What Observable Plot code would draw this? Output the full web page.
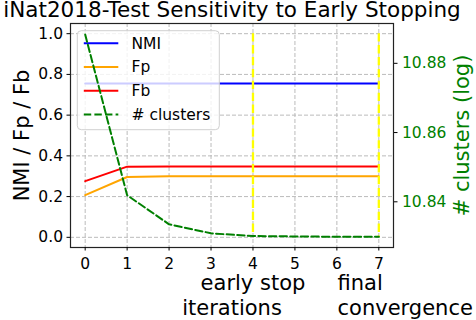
<!DOCTYPE html>
<html><head><meta charset="utf-8">
<script src="https://cdn.jsdelivr.net/npm/d3@7"></script>
<script src="https://cdn.jsdelivr.net/npm/@observablehq/plot@0.6"></script>
<style>
body{margin:0;background:#fff;font-family:"DejaVu Sans",sans-serif;}
#title{width:464px;height:20px;line-height:19.5px;font-size:21.5px;text-align:center;white-space:nowrap;color:#000;overflow:visible;}
#chart svg{overflow:visible;}
</style></head><body>
<div id="title">iNat2018-Test Sensitivity to Early Stopping</div>
<div id="chart"></div>
<script>
const iterations = [0, 1, 2, 3, 4, 5, 6, 7];
const nmi = [0.755, 0.755, 0.755, 0.755, 0.755, 0.755, 0.755, 0.755];
const fp = [0.207, 0.296, 0.300, 0.300, 0.300, 0.300, 0.300, 0.300];
const fb = [0.276, 0.347, 0.348, 0.348, 0.348, 0.348, 0.348, 0.348];
const logClusters = [10.8883, 10.8419, 10.8335, 10.8309, 10.8301, 10.8300, 10.8299, 10.8299];
const leftTicks = [0, 0.2, 0.4, 0.6, 0.8, 1.0];
const rightTicks = [10.84, 10.86, 10.88];
const markerIters = [4, 7];
const seriesNames = ["NMI", "Fp", "Fb", "# clusters"];
const seriesColors = ["blue", "orange", "red", "green"];
const yDomain = [-0.05, 1.05];
const rightDomain = [10.8268, 10.8915];

const toLeft = d3.scaleLinear(rightDomain, yDomain);
const rows = iterations.map((it, i) => ({it, nmi: nmi[i], fp: fp[i], fb: fb[i], cl: toLeft(logClusters[i])}));
const FONT = "DejaVu Sans";

function legend(index, scales, values, dim) {
  const g = d3.create("svg:g").attr("font-family", FONT).attr("font-size", 15.5).attr("text-anchor", "start");
  const x0 = dim.marginLeft + 7.3, y0 = dim.marginTop + 7.7;
  g.append("rect").attr("x", x0).attr("y", y0).attr("width", 142).attr("height", 99)
    .attr("rx", 4).attr("fill", "white").attr("fill-opacity", 0.8).attr("stroke", "#d0d0d0");
  seriesNames.forEach((n, i) => {
    const yy = y0 + 12.6 + i * 23.7;
    g.append("line").attr("x1", x0 + 6.5).attr("x2", x0 + 41).attr("y1", yy).attr("y2", yy)
      .attr("stroke", seriesColors[i]).attr("stroke-width", 2)
      .attr("stroke-dasharray", i === 3 ? "7.4,3.2" : null);
    g.append("text").attr("x", x0 + 54.2).attr("y", yy).attr("dy", "0.35em")
      .attr("text-anchor", "start").attr("fill", "black").text(n);
  });
  return g.node();
}

const gridStyle = {stroke: "#bbbbbb", strokeOpacity: 1, strokeWidth: 1, strokeDasharray: "4,2"};

const chart = Plot.plot({
  width: 476,
  height: 300,
  marginLeft: 70,
  marginRight: 83,
  marginTop: 3,
  marginBottom: 73,
  style: {fontFamily: FONT, background: "white", overflow: "visible"},
  x: {domain: [-0.35, 7.35]},
  y: {domain: yDomain},
  marks: [
    Plot.gridX(iterations, gridStyle),
    Plot.gridY(leftTicks, gridStyle),
    Plot.line(rows, {x: "it", y: "nmi", stroke: seriesColors[0], strokeWidth: 2}),
    Plot.line(rows, {x: "it", y: "fp", stroke: seriesColors[1], strokeWidth: 2}),
    Plot.line(rows, {x: "it", y: "fb", stroke: seriesColors[2], strokeWidth: 2}),
    Plot.ruleX(markerIters, {x: d => d, y1: 1, y2: 0, stroke: "yellow", strokeWidth: 2.3, strokeDasharray: "8.3,3.6"}),
    legend,
    Plot.line(rows, {x: "it", y: "cl", stroke: seriesColors[3], strokeWidth: 2, strokeDasharray: "7.4,3.2"}),
    Plot.frame({stroke: "#222", strokeWidth: 1.2}),
    Plot.axisX(iterations, {anchor: "bottom", tickSize: 3.5, tickPadding: 6.5, fontSize: 15.5, label: null, tickFormat: d => String(d)}),
    Plot.axisY(leftTicks, {anchor: "left", tickSize: 3.5, tickPadding: 4, fontSize: 15.5, label: null, tickFormat: d3.format(".1f")}),
    Plot.axisY(rightTicks.map(toLeft), {anchor: "right", tickSize: 3.5, tickPadding: 5, fontSize: 15.5, label: null, tickFormat: () => ""}),
    Plot.axisY(rightTicks.map(toLeft), {anchor: "right", tickSize: 0, tickPadding: 8.5, fontSize: 15.5, label: null, color: "green", tickFormat: d => d3.format(".2f")(toLeft.invert(d))}),
    Plot.text(["NMI / Fp / Fb"], {text: d => d, frameAnchor: "left", rotate: -90, dx: -48, fontSize: 21, textAnchor: "middle", lineAnchor: "middle", fill: "black"}),
    Plot.text(["# clusters (log)"], {text: d => d, frameAnchor: "right", rotate: -90, dx: 68.4, fontSize: 21, textAnchor: "middle", lineAnchor: "middle", fill: "green"}),
    Plot.text(["early stop"], {x: () => markerIters[0], text: d => d, frameAnchor: "bottom", lineAnchor: "top", dy: 27.1, fontSize: 21, textAnchor: "middle", fill: "black"}),
    Plot.text(["final\nconvergence"], {x: () => markerIters[1], text: d => d, frameAnchor: "bottom", lineAnchor: "top", dy: 23.8, dx: -41.3, lineHeight: 1.224, fontSize: 21, textAnchor: "start", fill: "black"}),
    Plot.text(["iterations"], {text: d => d, frameAnchor: "bottom", lineAnchor: "top", dy: 52.8, fontSize: 21, fill: "black"})
  ]
});
document.getElementById("chart").appendChild(chart);
</script>
</body></html>
